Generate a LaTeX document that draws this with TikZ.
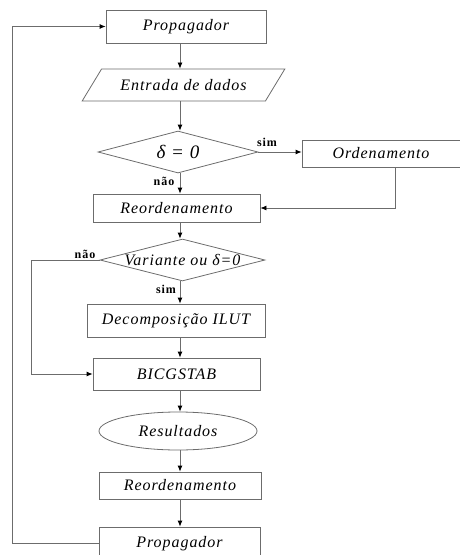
\documentclass[tikz,border=0pt]{standalone}
\usepackage{fontspec}
\setmainfont{Liberation Serif}
\usetikzlibrary{shapes.geometric,arrows.meta}
\newfontfamily\flowfont[LetterSpace=6]{Liberation Serif}
\newfontfamily\tagfont[LetterSpace=8]{Liberation Serif}
\begin{document}
\begin{tikzpicture}
[
    x=1pt, y=-1pt,
    every node/.style={draw=gray!85!black, line width=0.8pt, inner sep=0pt,
        font=\flowfont\itshape\fontsize{16}{18}\selectfont},
    box/.style={rectangle, minimum height=#1},
    box/.default=32pt,
    io/.style={trapezium, trapezium left angle=37, trapezium right angle=143,
        trapezium stretches=true, minimum width=203pt, minimum height=32pt},
    decision/.style={diamond, aspect=3.9, inner sep=-4pt, minimum height=42pt},
    terminal/.style={ellipse, minimum width=158pt, minimum height=38pt},
    tag/.style={draw=none, font=\tagfont\bfseries\fontsize{12}{13}\selectfont},
    arr/.style={draw=gray!85!black, line width=0.8pt, -{Latex[length=6pt,width=5pt,color=black]}},
]
\useasboundingbox (0,0) rectangle (460,555);
\coordinate (axis) at (180,0);
\node [box=33pt, minimum width=160pt] (prop1) at (186,26.5) {Propagador};
\node [io] (entrada) at (183.5,85) {Entrada de dados};
\node [decision, minimum width=160pt, font=\flowfont\itshape\fontsize{19}{21}\selectfont] (delta) at (178,152) {δ = 0};
\node [box=27pt, minimum width=158pt] (orden) at (381,153.5) {Ordenamento};
\node [box=28pt, minimum width=167pt] (reord1) at (176.5,208) {Reordenamento};
\node [decision, minimum width=165pt] (varia) at (182.5,260) {Variante ou δ=0};
\node [box=33pt, minimum width=178pt] (decomp) at (176,320.5) {Decomposição ILUT};
\node [box=32pt, minimum width=167pt] (bicg) at (176.5,374) {BICGSTAB};
\node [terminal] (result) at (178,431) {Resultados};
\node [box=27pt, minimum width=162pt] (reord2) at (180,485.5) {Reordenamento};
\node [box=33pt, minimum width=161pt] (prop2) at (179.5,543.5) {Propagador};
\node [tag] (sim1) at (267,142) {sim};
\node [tag] (nao1) at (164,181) {não};
\node [tag] (nao2) at (85,254) {não};
\node [tag] (sim2) at (166,289) {sim};
\foreach \a/\b in {prop1/entrada, entrada/delta, delta/reord1, reord1/varia, varia/decomp,
    decomp/bicg, bicg/result, result/reord2, reord2/prop2}
    \draw [arr] (\a.south -| axis) -- (\b.north -| axis);
\draw [arr] (delta.east) -- (delta.east -| orden.west);
\draw [arr] (orden.south) ++(14,0) |- (reord1.east);
\draw [arr] (varia.west) -- ++(-68,0) |- (bicg.west);
\draw [arr] (prop2.west) -- ++(-86,0) |- (prop1.west);
\end{tikzpicture}
\end{document}
